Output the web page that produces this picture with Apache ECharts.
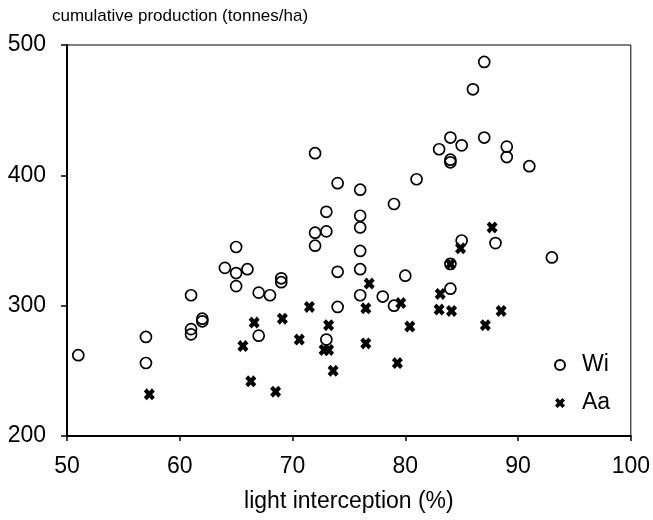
<!DOCTYPE html>
<html>
<head>
<meta charset="utf-8">
<script src="https://cdn.jsdelivr.net/npm/echarts@6/dist/echarts.min.js"></script>
<style>
html,body{margin:0;padding:0;background:#fff;}
#chart{width:653px;height:520px;}
</style>
</head>
<body>
<div id="chart"></div>
<script>
const titleText = 'cumulative production (tonnes/ha)';
const xAxisName = 'light interception (%)';
const seriesNames = ['Wi', 'Aa'];

const wiX = [51,57,57,61,61,61,62,62,64,65,65,65,66,67,67,68,69,69,72,72,72,73,73,73,74,74,74,76,76,76,76,76,76,78,79,79,80,81,83,84,84,84,84,84,85,85,86,87,87,88,89,89,91,93];
const wiY = [262,276,256,308,282,278,290,288,329,345,325,315,328,310,277,308,321,318,417,356,346,357,372,274,394,326,299,389,369,360,342,328,308,307,378,300,323,397,420,429,412,410,332,313,423,350,466,487,429,348,422,414,407,337];

const aaX = [57.3,65.6,66.3,66.6,68.5,69.1,70.6,71.5,72.8,73.2,73.2,73.6,76.5,76.5,76.8,79.3,79.6,80.4,83.1,83,84,84.1,84.9,87.1,87.7,88.5];
const aaY = [232,269,242,287,234,290,274,299,266,266,285,250,298,271,317,256,302,284,309,297,332,296,344,285,360,296];

const wiData = wiX.map((x, i) => [x, wiY[i]]);
const aaData = aaX.map((x, i) => [x, aaY[i]]);

const xSym = 'path://M0,2.6L2.6,0L5,2.4L7.4,0L10,2.6L7.6,5L10,7.4L7.4,10L5,7.6L2.6,10L0,7.4L2.4,5Z';
const font = 'Liberation Sans, Arial, sans-serif';

const chart = echarts.init(document.getElementById('chart'), null, {renderer: 'canvas'});
chart.setOption({
  animation: false,
  backgroundColor: '#fff',
  title: {
    text: titleText,
    left: 47, top: 3,
    textStyle: {fontFamily: font, fontSize: 17, fontWeight: 'normal', color: '#000'}
  },
  legend: {
    orient: 'vertical',
    left: 549, top: 348,
    itemWidth: 34, itemHeight: 10, itemGap: 14,
    data: seriesNames,
    textStyle: {fontFamily: font, fontSize: 23, color: '#000', lineHeight: 24}
  },
  grid: {
    left: 67, right: 20, top: 45, bottom: 84,
    show: true, borderColor: '#000', borderWidth: 1, backgroundColor: 'transparent'
  },
  xAxis: {
    type: 'value', min: 50, max: 100, interval: 10,
    name: xAxisName, nameLocation: 'middle', nameGap: 54,
    nameTextStyle: {fontFamily: font, fontSize: 23, color: '#000'},
    axisLine: {lineStyle: {color: '#000', width: 2}},
    axisTick: {length: 5, lineStyle: {color: '#000', width: 1.5}},
    axisLabel: {fontFamily: font, fontSize: 23, color: '#000', margin: 19},
    splitLine: {show: false}
  },
  yAxis: {
    type: 'value', min: 200, max: 500, interval: 100,
    axisLine: {show: true, lineStyle: {color: '#000', width: 2}},
    axisTick: {show: true, length: 6, lineStyle: {color: '#000', width: 1.5}},
    axisLabel: {fontFamily: font, fontSize: 23, color: '#000', margin: 21},
    splitLine: {show: false}
  },
  series: [
    {
      name: seriesNames[0], type: 'scatter', data: wiData,
      symbol: 'circle', symbolSize: 11,
      itemStyle: {color: 'rgba(255,255,255,0)', borderColor: '#000', borderWidth: 1.7, opacity: 1}
    },
    {
      name: seriesNames[1], type: 'scatter', data: aaData,
      symbol: xSym, symbolSize: [11, 12],
      itemStyle: {color: '#000', opacity: 1}
    }
  ]
});
</script>
</body>
</html>
